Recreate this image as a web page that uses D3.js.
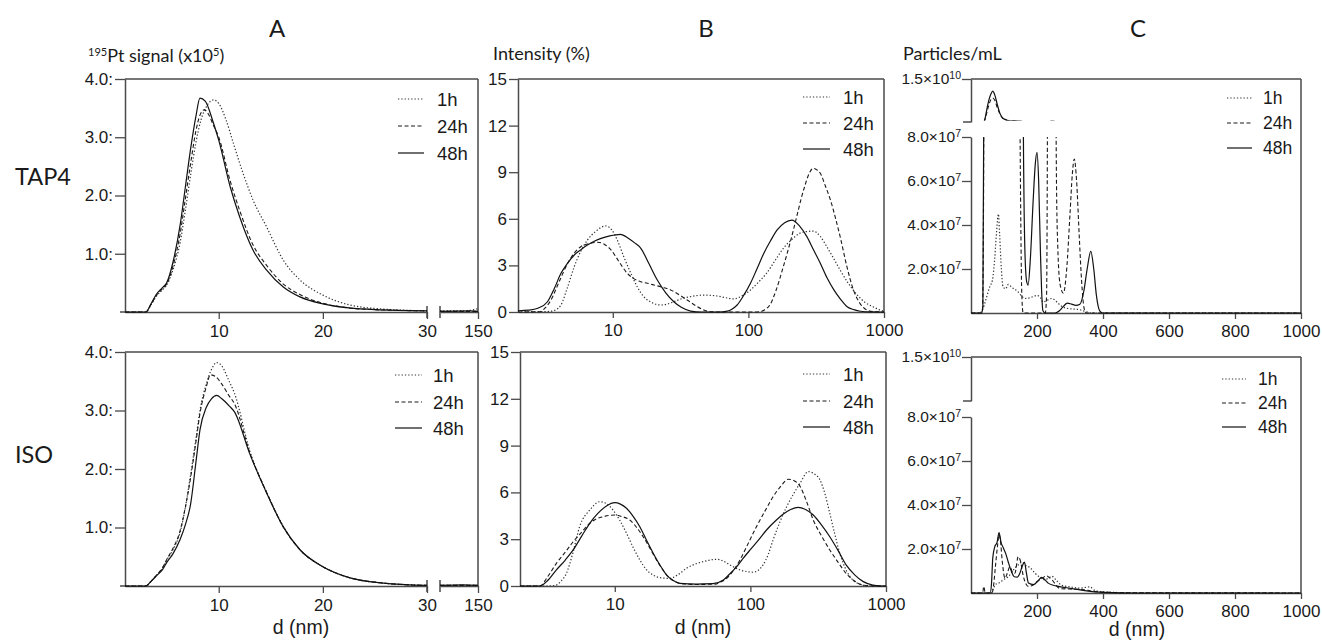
<!DOCTYPE html>
<html><head><meta charset="utf-8">
<script src="https://cdn.jsdelivr.net/npm/d3@7"></script>
<style>body{margin:0;background:#fff}svg{display:block}</style>
</head><body>
<svg id="c" width="1322" height="642"></svg>
<script>
// ---------------- DATA ----------------
const timeLabels = ["1h", "24h", "48h"];
const rowLabels = ["TAP4", "ISO"];
const panelTitles = ["A", "B", "C"];
const yTitleA = ["195", "Pt signal (x10", "5", ")"];
const yTitleB = "Intensity (%)";
const yTitleC = "Particles/mL";
const xTitle = "d (nm)";

const aYTicks = [1, 2, 3, 4];
const aYTickLabels = ["1.0:", "2.0:", "3.0:", "4.0:"];
const aXTicks = [10, 20, 30];
const aXTailTicks = [150];
const bYTicks = [0, 3, 6, 9, 12, 15];
const bXTicks = [10, 100, 1000];
const cXTicks = [200, 400, 600, 800, 1000];
const cYTicks = [2e7, 4e7, 6e7, 8e7];
const cYTickMant = ["2.0", "4.0", "6.0", "8.0"];
const cYTickExp = "7";
const cTopTick = 1.5e10;
const cTopMant = "1.5";
const cTopExp = "10";

// Panel A: ICP-MS signal (x1e5) vs d (nm)
const aTap4_1h = [[1,0],[3,0],[3.5,0.12],[4,0.27],[4.6,0.38],[5,0.46],[5.6,0.72],[6.3,1.2],[6.8,1.75],[7.3,2.35],[7.8,2.9],[8.3,3.3],[8.8,3.52],[9.5,3.64],[10,3.58],[10.7,3.3],[11.4,2.9],[12.3,2.4],[13.3,1.92],[14.6,1.46],[16.2,0.89],[17.8,0.55],[20,0.29],[22.6,0.12],[25.8,0.05],[30,0.02]];
const aTap4_24h = [[1,0],[3,0],[3.5,0.13],[4,0.28],[4.6,0.4],[5,0.48],[5.6,0.78],[6.3,1.35],[6.8,1.95],[7.3,2.55],[7.8,3.1],[8.2,3.38],[8.6,3.47],[9,3.4],[9.5,3.2],[10,3.0],[11.1,2.25],[12,1.75],[13.3,1.15],[14.6,0.8],[16.2,0.48],[17.8,0.3],[20,0.15],[22.5,0.07],[25,0.04],[30,0.02]];
const aTap4_48h = [[1,0],[3,0],[3.5,0.14],[4,0.3],[4.6,0.42],[5,0.5],[5.6,0.85],[6.3,1.5],[6.8,2.15],[7.3,2.8],[7.8,3.35],[8.2,3.67],[8.7,3.62],[9.5,3.24],[10,2.95],[11.1,2.15],[12,1.64],[13.3,1.06],[14.6,0.72],[16.2,0.43],[17.8,0.26],[20,0.14],[22.5,0.07],[25,0.04],[30,0.02]];
const aTap4_1hTail = [[100,0.02],[130,0.02],[145,0.04],[150,0.06]];
const aTap4_24hTail = [[100,0.01],[150,0.01]];
const aTap4_48hTail = [[100,0.01],[140,0.02],[150,0.01]];

const aIso_1h = [[1,0],[3,0],[3.5,0.08],[4,0.18],[4.6,0.3],[5,0.44],[5.6,0.62],[6.3,0.92],[6.8,1.35],[7.3,1.9],[7.8,2.5],[8.2,3.0],[8.8,3.45],[9.3,3.7],[9.8,3.82],[10.3,3.76],[11,3.5],[11.5,3.3],[13,2.3],[14.6,1.6],[16.2,1.02],[17.8,0.62],[20,0.33],[22.6,0.14],[25.8,0.05],[30,0.01]];
const aIso_24h = [[1,0],[3,0],[3.5,0.08],[4,0.18],[4.6,0.31],[5,0.45],[5.6,0.64],[6.3,0.95],[6.8,1.35],[7.3,1.85],[7.8,2.45],[8.2,2.95],[8.8,3.4],[9.2,3.61],[9.7,3.58],[10.3,3.45],[11,3.25],[11.5,3.12],[13,2.27],[14.6,1.6],[16.2,1.01],[17.8,0.62],[20,0.33],[22.6,0.14],[25.8,0.05],[30,0.01]];
const aIso_48h = [[1,0],[3,0],[3.5,0.08],[4,0.17],[4.6,0.28],[5,0.4],[5.6,0.55],[6.3,0.8],[6.8,1.05],[7.3,1.4],[7.8,2.1],[8.2,2.67],[8.8,3.05],[9.3,3.2],[9.8,3.26],[10.3,3.2],[11,3.08],[11.5,2.98],[13,2.25],[14.6,1.59],[16.2,1.01],[17.8,0.62],[20,0.33],[22.6,0.14],[25.8,0.05],[30,0.01]];
const aIso_1hTail = [[100,0.01],[150,0.01]];
const aIso_24hTail = [[100,0.01],[150,0.01]];
const aIso_48hTail = [[100,0.01],[130,0.02],[150,0.01]];

// Panel B: DLS intensity (%) vs d (nm, log)
const bTap4_1h = [[2,0],[3,0.02],[3.5,0.05],[3.8,0.15],[4.15,0.45],[4.6,1.5],[5.2,2.92],[5.8,3.9],[6.5,4.63],[7.5,5.2],[8.9,5.54],[9.8,5.3],[10.8,4.63],[12,3.6],[13.6,2.49],[15.2,1.6],[16.9,0.99],[19.5,0.6],[22.5,0.45],[25,0.5],[28.2,0.66],[32,0.85],[37.5,0.99],[46.9,1.09],[58.8,1.03],[68,0.92],[77.7,0.84],[90,1.05],[103.6,1.42],[118,1.9],[136,2.49],[157,3.3],[181,4.1],[208,4.65],[239,5.07],[270,5.18],[301,5.21],[340,4.85],[379,4.2],[425,3.45],[475,2.7],[550,1.8],[636,1.09],[730,0.6],[829,0.34],[920,0.15],[1000,0.05]];
const bTap4_24h = [[2,0],[2.9,0.02],[3.2,0.3],[3.5,0.77],[4.0,1.9],[4.65,3.14],[5.2,3.8],[5.8,4.2],[6.7,4.4],[7.7,4.49],[8.7,4.35],[9.7,4.0],[11,3.3],[12.8,2.49],[14.3,2.15],[16.1,1.95],[18,1.85],[20.1,1.74],[23,1.6],[26.7,1.42],[31,1.1],[35.4,0.77],[41,0.4],[46.9,0.13],[52,0.02],[60,0],[110,0],[122,0.02],[132,0.15],[144,0.45],[160,1.4],[181,2.92],[205,4.6],[227,6.13],[245,7.3],[262,8.18],[280,8.9],[301,9.25],[320,9.15],[339,8.93],[370,8.1],[403,7.21],[440,6.0],[475,4.85],[530,3.0],[595,1.42],[660,0.6],[747,0.13],[850,0.02],[1000,0]];
const bTap4_48h = [[2,0.08],[2.4,0.12],[2.8,0.24],[3.3,0.66],[3.7,1.5],[4.15,2.49],[4.6,3.1],[5.2,3.67],[5.8,4.0],[6.5,4.31],[7.3,4.55],[8.2,4.74],[9.5,4.9],[11.4,5.0],[13,4.75],[14.5,4.45],[16.1,4.1],[18.5,3.1],[21.3,2.06],[24.5,1.25],[28.2,0.66],[32,0.3],[37.5,0.06],[45,0],[60,0],[70,0.06],[76,0.2],[82.6,0.45],[92,1.05],[103.6,1.85],[116,2.8],[130,3.78],[146,4.6],[163,5.28],[185,5.75],[209,5.92],[238,5.55],[270,4.85],[300,4.05],[339,3.14],[380,2.2],[427,1.42],[480,0.8],[535,0.34],[600,0.15],[670,0.05],[800,0.01],[1000,0]];

const bIso_1h = [[2,0],[3.3,0],[3.71,0.06],[4.0,0.3],[4.4,0.81],[4.9,2.1],[5.5,3.8],[6.54,4.87],[7.75,5.4],[8.6,5.3],[9.7,4.87],[10.9,4.2],[12.2,3.38],[13.7,2.45],[15.3,1.67],[17.1,1.05],[19.2,0.7],[22,0.52],[25.5,0.49],[29.5,0.75],[33.8,1.13],[38.5,1.38],[44.9,1.56],[56.5,1.71],[63,1.6],[70.7,1.35],[83.7,1.03],[95,0.92],[104.9,0.88],[114,1.0],[124,1.35],[135,2.0],[147,2.95],[165,4.1],[185,5.08],[208,5.9],[232,6.58],[267,7.33],[295,7.2],[326,6.8],[355,5.9],[385,4.66],[420,3.3],[456,2.1],[510,1.0],[571,0.38],[650,0.1],[761,0],[1000,0]];
const bIso_24h = [[2,0],[2.8,0],[3.2,0.6],[3.71,1.45],[4.3,2.15],[4.93,2.84],[5.7,3.45],[6.54,4.02],[7.3,4.3],[8.2,4.44],[10,4.55],[11.3,4.45],[12.9,4.23],[14.5,3.75],[16.2,3.16],[18.2,2.4],[20.3,1.67],[22.8,1.0],[25.5,0.49],[28,0.28],[30.2,0.17],[40,0.1],[55,0.12],[60,0.25],[66.9,0.49],[75,1.0],[83.7,1.67],[96,2.7],[110.8,3.8],[128,4.8],[147,5.72],[168,6.4],[190,6.84],[210,6.75],[232,6.4],[260,5.4],[291,4.23],[335,3.2],[385,2.31],[445,1.5],[508,0.81],[590,0.3],[680,0.06],[800,0.01],[1000,0]];
const bIso_48h = [[2,0],[2.8,0],[3.2,0.35],[3.71,1.03],[4.3,1.65],[4.93,2.31],[5.7,3.2],[6.54,4.02],[7.5,4.65],[8.68,5.13],[10,5.34],[11,5.25],[12.2,4.98],[13.7,4.45],[15.3,3.8],[17.1,2.95],[19.2,2.1],[21.5,1.35],[24.1,0.7],[27,0.35],[30.2,0.17],[40,0.12],[53,0.15],[63.2,0.38],[70,0.75],[79.3,1.24],[88,1.75],[99.5,2.31],[115,2.95],[131.5,3.59],[152,4.15],[174,4.6],[198,4.9],[225,5.04],[255,4.9],[291,4.55],[335,3.9],[385,3.16],[445,2.25],[508,1.35],[590,0.7],[680,0.28],[800,0.06],[960,0],[1000,0]];

// Panel C: NTA particles/mL vs d (nm)
const cTap4_1h = [[0,0],[27,0],[35,1.5e6],[45,6e6],[57,1.2e7],[65,1.5e7],[72,2.5e7],[78,3.8e7],[83,4.5e7],[87,3.5e7],[92,2e7],[97,1.2e7],[105,1.1e7],[113,1.3e7],[125,1.15e7],[140,1e7],[155,7.5e6],[164,6.6e6],[180,7e6],[200,8e6],[210,7e6],[218,5e6],[228,5.5e6],[245,6.6e6],[260,5e6],[275,3e6],[290,2.2e6],[310,1.8e6],[330,1.5e6],[350,5e5],[370,0],[1000,0]];
const cTap4_24h = [[0,0],[30,0],[35,2e6],[38,5e7],[41,5e8],[46,2.5e9],[53,5.5e9],[60,7.8e9],[66,8.4e9],[72,7.6e9],[80,5e9],[88,2.8e9],[95,1.5e9],[103,9e8],[110,6e8],[125,5e8],[138,4e8],[144,2.5e8],[148,1e8],[151,4e7],[154,8e6],[158,0],[225,0],[229,8e6],[233,1.5e8],[238,4.5e8],[245,5.5e8],[252,4e8],[256,1.5e8],[259,6e7],[263,3e7],[270,1.3e7],[280,9e6],[290,2e7],[300,4.5e7],[307,6.3e7],[313,7e7],[320,6e7],[328,3.5e7],[335,1.5e7],[343,2e6],[350,0],[1000,0]];
const cTap4_48h = [[0,0],[32,0],[36,3e6],[39,1e8],[43,1.5e9],[48,4.5e9],[55,8e9],[61,1.0e10],[66,1.08e10],[72,9.5e9],[80,6e9],[88,3e9],[95,1.6e9],[103,1e9],[110,7e8],[125,6e8],[140,5.5e8],[150,5e8],[155,3e8],[157,1.2e8],[160,6e7],[164,2.5e7],[169,1.4e7],[173,1.27e7],[180,2.5e7],[188,5e7],[195,6.8e7],[200,7.3e7],[205,6e7],[210,3e7],[214,1e7],[218,1e6],[225,0],[255,0],[268,1e6],[280,3e6],[292,4.5e6],[305,4e6],[318,3.5e6],[330,4e6],[342,1e7],[352,2e7],[363,2.8e7],[372,2e7],[380,8e6],[390,1e6],[400,0],[1000,0]];

const cIso_1h = [[0,0],[60,0],[66,1.5e6],[75,4e6],[84,4.5e6],[98,6e6],[113,7.4e6],[124,9.5e6],[134,1.15e7],[145,1.3e7],[154,1.4e7],[166,1.25e7],[179,1.15e7],[194,9e6],[210,7e6],[224,6e6],[235,6.8e6],[245,7.6e6],[260,5.5e6],[275,3.5e6],[300,2.8e6],[330,2.2e6],[345,2.5e6],[360,2.8e6],[375,1.2e6],[400,5e5],[500,1e5],[1000,0]];
const cIso_24h = [[0,0],[35,0],[39,3e6],[43,0],[64,0],[68,3e6],[74,1.2e7],[80,2.1e7],[85,2.65e7],[89,2.4e7],[95,1.4e7],[103,6.7e6],[110,9e6],[118,1.2e7],[124,1.0e7],[133,9e6],[143,1.65e7],[150,1.45e7],[158,8e6],[167,4e6],[174,3e6],[187,3.5e6],[199,5e6],[214,6.5e6],[229,7.8e6],[237,7e6],[245,6.1e6],[258,3.5e6],[270,2e6],[300,1.8e6],[345,1.5e6],[360,1e6],[400,4e5],[500,1e5],[880,5e4],[1000,0]];
const cIso_48h = [[0,0],[58,0],[62,4e6],[66,1.6e7],[72,2.1e7],[79,2.3e7],[85,2.75e7],[91,2.3e7],[98,2.05e7],[105,1.8e7],[113,1.4e7],[122,1.0e7],[131,7.4e6],[140,7.2e6],[148,9e6],[156,1.25e7],[162,1.4e7],[168,9e6],[174,4.5e6],[189,3.8e6],[203,5.5e6],[214,7.1e6],[224,6e6],[234,4.5e6],[250,3.5e6],[265,3e6],[290,2.4e6],[311,1.9e6],[345,1.1e6],[400,3e5],[500,0],[1000,0]];

// ---------------- DRAWING ----------------
const svg = d3.select("#c");
const FT = "'Liberation Sans', Arial, sans-serif";
const FL = "Lato, 'Open Sans', sans-serif";
const INK = "#1a1a1a";
const AX = "#4a4a4a";
const dashes = ["1.3,2", "4,2.5", null];
const lineW = [1.2, 1.1, 1.2];
const lineCol = ["#333", "#1a1a1a", "#111"];

const rows = [{y0: 79, y1: 312}, {y0: 352, y1: 586}];
const cRows = [{y0: 79, yb: 122, yl: 137, y1: 313}, {y0: 357, yb: 401, yl: 417, y1: 593}];

function styleAxis(g, fs) {
  g.attr("font-family", FT);
  g.select(".domain").attr("stroke", AX).attr("stroke-width", 1.5);
  g.selectAll(".tick line").attr("stroke", AX).attr("stroke-width", 1.3);
  g.selectAll(".tick text").attr("font-family", FT).attr("font-size", fs || 17).attr("fill", INK);
}
function hline(x1, x2, y) {
  svg.append("line").attr("x1", x1).attr("x2", x2).attr("y1", y).attr("y2", y)
    .attr("stroke", AX).attr("stroke-width", 1.5);
}
function vline(x, y1, y2) {
  svg.append("line").attr("x1", x).attr("x2", x).attr("y1", y1).attr("y2", y2)
    .attr("stroke", AX).attr("stroke-width", 1.5);
}
let clipId = 0;
function clipRect(x, y, w, h) {
  const id = "clip" + (clipId++);
  svg.append("clipPath").attr("id", id).append("rect")
    .attr("x", x).attr("y", y).attr("width", w).attr("height", h);
  return "url(#" + id + ")";
}
function drawSeries(data, xs, ys, i, clip, curve) {
  const line = d3.line().x(d => xs(d[0])).y(d => ys(d[1])).curve(curve || d3.curveMonotoneX);
  const p = svg.append("path").datum(data).attr("d", line)
    .attr("fill", "none").attr("stroke", lineCol[i]).attr("stroke-width", lineW[i])
    .attr("stroke-linejoin", "round");
  if (dashes[i]) p.attr("stroke-dasharray", dashes[i]);
  if (clip) p.attr("clip-path", clip);
}
function legend(xa, xb, xt, ys, fs) {
  timeLabels.forEach((t, i) => {
    const l = svg.append("line").attr("x1", xa).attr("x2", xb).attr("y1", ys[i]).attr("y2", ys[i])
      .attr("stroke", lineCol[i]).attr("stroke-width", lineW[i]);
    if (dashes[i]) l.attr("stroke-dasharray", dashes[i]);
    svg.append("text").attr("x", xt).attr("y", ys[i]).attr("dy", "0.36em")
      .attr("font-family", FT).attr("font-size", fs).attr("fill", INK).text(t);
  });
}
function sci(sel, mant, exp) {
  sel.text(null);
  sel.append("tspan").text(mant + "\u00d710");
  sel.append("tspan").attr("dy", "-0.55em").attr("font-size", "0.68em").text(exp);
}

// Titles
const titleX = [277, 706, 1138];
panelTitles.forEach((t, i) => {
  svg.append("text").attr("x", titleX[i]).attr("y", 37).attr("text-anchor", "middle")
    .attr("font-family", FL).attr("font-size", 24).attr("fill", INK).text(t);
});
// Row labels
svg.append("text").attr("x", 15).attr("y", 185).attr("font-family", FL).attr("font-size", 23.5).attr("fill", INK).text(rowLabels[0]);
svg.append("text").attr("x", 15).attr("y", 463).attr("font-family", FL).attr("font-size", 23.5).attr("fill", INK).text(rowLabels[1]);

// Y titles
{
  const t = svg.append("text").attr("x", 88).attr("y", 62).attr("font-family", FL).attr("font-size", 18).attr("fill", INK);
  t.append("tspan").attr("font-size", 11).attr("dy", -6).text(yTitleA[0]);
  t.append("tspan").attr("dy", 6).text(yTitleA[1]);
  t.append("tspan").attr("font-size", 11).attr("dy", -6).text(yTitleA[2]);
  t.append("tspan").attr("dy", 6).text(yTitleA[3]);
  svg.append("text").attr("x", 493).attr("y", 60).attr("font-family", FL).attr("font-size", 18).attr("fill", INK).text(yTitleB);
  svg.append("text").attr("x", 903).attr("y", 60).attr("font-family", FL).attr("font-size", 18).attr("fill", INK).text(yTitleC);
}

// X titles
[[301, 634], [703, 634], [1137, 636]].forEach(p => {
  svg.append("text").attr("x", p[0]).attr("y", p[1]).attr("text-anchor", "middle")
    .attr("font-family", FT).attr("font-size", 19.5).attr("fill", INK).text(xTitle);
});

// ---------- Panel A ----------
const aSeries = [[aTap4_1h, aTap4_24h, aTap4_48h], [aIso_1h, aIso_24h, aIso_48h]];
const aTails = [[aTap4_1hTail, aTap4_24hTail, aTap4_48hTail], [aIso_1hTail, aIso_24hTail, aIso_48hTail]];
const aLegY = [[99, 126, 153], [375, 402, 428]];
const aLegX = [[398, 424, 437], [395, 422, 433]];
rows.forEach((r, ri) => {
  const x1 = d3.scaleLinear([1, 30], [125, 427]);
  const x2 = d3.scaleLinear([100, 150], [440, 478]);
  const y = d3.scaleLinear([0, 4], [r.y1, r.y0]);
  hline(125, 478, r.y0);
  vline(478, r.y0, r.y1);
  const gy = svg.append("g").attr("transform", `translate(125,0)`)
    .call(d3.axisLeft(y).tickValues(aYTicks).tickFormat((d, i) => aYTickLabels[i]).tickSize(10).tickPadding(2).tickSizeOuter(0));
  styleAxis(gy, 17);
  hline(120, 125, r.y1);
  const gx1 = svg.append("g").attr("transform", `translate(0,${r.y1})`)
    .call(d3.axisBottom(x1).tickValues(aXTicks).tickSize(7).tickPadding(6).tickSizeOuter(0));
  styleAxis(gx1, 17);
  const gx2 = svg.append("g").attr("transform", `translate(0,${r.y1})`)
    .call(d3.axisBottom(x2).tickValues(aXTailTicks).tickSize(7).tickPadding(6).tickSizeOuter(0));
  styleAxis(gx2, 17);
  // break caps
  vline(427, r.y1 - 6, r.y1 + 6);
  vline(440, r.y1 - 6, r.y1 + 6);
  const clip1 = clipRect(125, r.y0, 302, r.y1 - r.y0 + 1);
  const clip2 = clipRect(440, r.y0, 38, r.y1 - r.y0 + 1);
  aSeries[ri].forEach((s, i) => drawSeries(s, x1, y, i, clip1));
  aTails[ri].forEach((s, i) => drawSeries(s, x2, y, i, clip2));
  legend(aLegX[ri][0], aLegX[ri][1], aLegX[ri][2], aLegY[ri], 18.5);
});

// ---------- Panel B ----------
const bSeries = [[bTap4_1h, bTap4_24h, bTap4_48h], [bIso_1h, bIso_24h, bIso_48h]];
const bLegY = [[97, 123, 149], [374, 401, 427]];
rows.forEach((r, ri) => {
  const xl = ri === 0 ? 518 : 520, xr = ri === 0 ? 884 : 886;
  const x = d3.scaleLog([2, 1000], [xl, xr]);
  const y = d3.scaleLinear([0, 15], [r.y1, r.y0]);
  hline(xl, xr, r.y0);
  vline(xr, r.y0, r.y1);
  const gy = svg.append("g").attr("transform", `translate(${xl},0)`)
    .call(d3.axisLeft(y).tickValues(bYTicks).tickFormat(d3.format("d")).tickSize(9).tickPadding(2).tickSizeOuter(0));
  styleAxis(gy, 17);
  const gx = svg.append("g").attr("transform", `translate(0,${r.y1})`)
    .call(d3.axisBottom(x).tickValues(bXTicks).tickFormat(d3.format("d")).tickSize(6).tickPadding(6).tickSizeOuter(0));
  styleAxis(gx, 17);
  const clip = clipRect(xl, r.y0, xr - xl, r.y1 - r.y0 + 1);
  bSeries[ri].forEach((s, i) => drawSeries(s, x, y, i, clip));
  legend(803, 830, 843, bLegY[ri], 18.5);
});

// ---------- Panel C ----------
const cSeries = [[cTap4_1h, cTap4_24h, cTap4_48h], [cIso_1h, cIso_24h, cIso_48h]];
const cLegY = [[98, 123, 148], [379, 403, 427]];
const cLegX = [[1227, 1252, 1263], [1222, 1246, 1258]];
cRows.forEach((r, ri) => {
  const xl = 971, xr = 1301;
  const x = d3.scaleLinear([0, 1000], [xl, xr]);
  const yLo = d3.scaleLinear([0, 8e7], [r.y1, r.yl]);
  const yHi = d3.scaleLinear([1e8, cTopTick], [r.yb, r.y0]);
  hline(xl, xr, r.y0);
  vline(xr, r.y0, r.y1);
  // lower y axis
  const gy = svg.append("g").attr("transform", `translate(${xl},0)`)
    .call(d3.axisLeft(yLo).tickValues(cYTicks).tickSize(9).tickPadding(1).tickSizeOuter(0));
  styleAxis(gy, 15.5);
  gy.selectAll(".tick text").each(function(d, i) { sci(d3.select(this), cYTickMant[i], cYTickExp); });
  // upper y axis segment
  const gy2 = svg.append("g").attr("transform", `translate(${xl},0)`)
    .call(d3.axisLeft(yHi).tickValues([cTopTick]).tickSize(9).tickPadding(1).tickSizeOuter(0));
  styleAxis(gy2, 15.5);
  gy2.selectAll(".tick text").each(function() { sci(d3.select(this), cTopMant, cTopExp); });
  hline(xl - 8, xl, r.yb);
  // x axis
  const gx = svg.append("g").attr("transform", `translate(0,${r.y1})`)
    .call(d3.axisBottom(x).tickValues(cXTicks).tickFormat(d3.format("d")).tickSize(6).tickPadding(6).tickSizeOuter(0));
  styleAxis(gx, 17);
  const clipLo = clipRect(xl, r.yl, xr - xl, r.y1 - r.yl + 1);
  const clipHi = clipRect(xl, r.y0, xr - xl, r.yb - r.y0 - 1.5);
  cSeries[ri].forEach((s, i) => {
    drawSeries(s, x, yLo, i, clipLo);
    drawSeries(s, x, yHi, i, clipHi);
  });
  legend(cLegX[ri][0], cLegX[ri][1], cLegX[ri][2], cLegY[ri], 17.5);
});
</script>
</body></html>
